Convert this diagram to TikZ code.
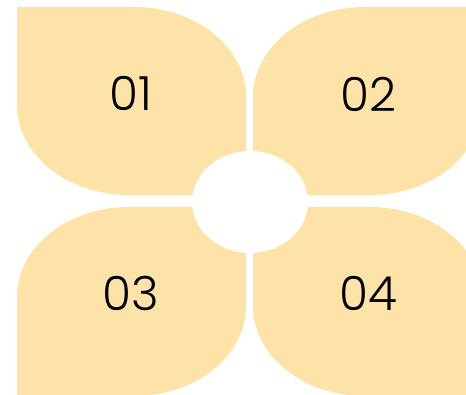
\documentclass[tikz,border=0pt]{standalone}
\usepackage{fontspec}
\setmainfont{Poppins}[UprightFont=* Light]
\usepackage{tikz}
\usetikzlibrary{positioning}
\definecolor{petalYellow}{HTML}{FDE3A8}
\definecolor{mainBlack}{gray}{0.0}

\begin{document}
\begin{tikzpicture}[x=1pt, y=1pt,
    petal/.style={fill=petalYellow},
    num/.style={text=mainBlack, font=\fontsize{47}{47}\selectfont, inner sep=0pt}]
    \useasboundingbox (0,0) rectangle (466,395);
    \clip (0,0) rectangle (466,395);

    \fill[petal] (17,388) -- (134,388) arc[start angle=90, end angle=0, x radius=112, y radius=90]
        -- (246,200) -- (129,200) arc[start angle=270, end angle=180, x radius=112, y radius=90] -- cycle;
    \fill[petal] (482,388) -- (365,388) arc[start angle=90, end angle=180, x radius=112, y radius=90]
        -- (253,200) -- (370,200) arc[start angle=270, end angle=360, x radius=112, y radius=90] -- cycle;
    \fill[petal] (17,-1) -- (17,98) arc[start angle=180, end angle=90, x radius=112, y radius=90]
        -- (246,188) -- (246,89) arc[start angle=0, end angle=-90, x radius=112, y radius=90] -- cycle;
    \fill[petal] (253,188) -- (370,188) arc[start angle=90, end angle=0, x radius=112, y radius=90]
        -- (482,-1) -- (365,-1) arc[start angle=270, end angle=180, x radius=112, y radius=90] -- cycle;

    \fill[white] (250,193) ellipse[x radius=58, y radius=51];

    \node[num] (one) at (131,302) {01};
    \node[num] (two) at (368,301) {02};
    \node[num] (three) at (131,102) {03};
    \node[num] (four) at (368,102) {04};
\end{tikzpicture}
\end{document}
